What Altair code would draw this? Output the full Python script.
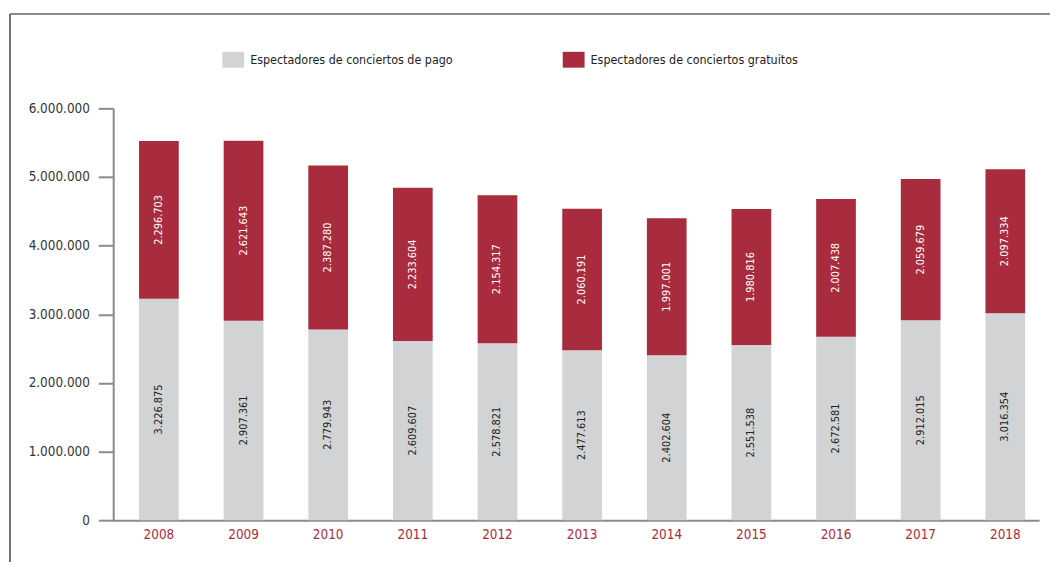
import altair as alt
import pandas as pd

years = ["2008", "2009", "2010", "2011", "2012", "2013", "2014", "2015", "2016", "2017", "2018"]
pago = [3226875, 2907361, 2779943, 2609607, 2578821, 2477613, 2402604, 2551538, 2672581, 2912015, 3016354]
gratuitos = [2296703, 2621643, 2387280, 2233604, 2154317, 2060191, 1997001, 1980816, 2007438, 2059679, 2097334]
series = ["Espectadores de conciertos de pago", "Espectadores de conciertos gratuitos"]
colors = ["#d1d3d4", "#a82c3d"]
y_ticks = [0, 1000000, 2000000, 3000000, 4000000, 5000000, 6000000]


def fmt(v):
    return f"{v:,}".replace(",", ".")


rows = []
for yr, p, g in zip(years, pago, gratuitos):
    rows.append(dict(year=yr, serie=series[0], value=p, y0=0, y1=p, mid=p / 2, label=fmt(p), dark=True))
    rows.append(dict(year=yr, serie=series[1], value=g, y0=p, y1=p + g, mid=p + g / 2, label=fmt(g), dark=False))
df = pd.DataFrame(rows)

FONT = "Liberation Sans Narrow, Arial Narrow, DejaVu Sans Condensed, sans-serif"

x_enc = alt.X(
    "year:N",
    sort=years,
    scale=alt.Scale(paddingInner=0.531, paddingOuter=0.235, align=0.65),
    axis=alt.Axis(
        title=None, labelAngle=0, ticks=False, labelColor="#a82c3d", labelFontSize=13.5,
        labelPadding=7, domainColor="#8a8a8a", domainWidth=2, labelFont=FONT,
    ),
)
y_scale = alt.Scale(domain=[0, 6000000], nice=False)
y_axis = alt.Axis(
    title=None, values=y_ticks, grid=False, tickSize=15, tickColor="#8a8a8a", tickWidth=2,
    domainColor="#8a8a8a", domainWidth=2, labelFontSize=13.5, labelColor="#333333",
    labelPadding=9, labelFont=FONT,
    labelExpr="datum.value == 0 ? '0' : format(datum.value / 1000000, 'd') + '.000.000'",
)

base = alt.Chart(df)

bars = base.mark_bar().encode(
    x=x_enc,
    y=alt.Y("y0:Q", scale=y_scale, axis=y_axis),
    y2="y1:Q",
    color=alt.Color(
        "serie:N",
        scale=alt.Scale(domain=series, range=colors),
        legend=alt.Legend(
            orient="none", legendX=110, legendY=-60, direction="horizontal", title=None,
            symbolType="M-1,-0.727H1V0.727H-1Z", symbolSize=484, symbolStrokeWidth=0,
            symbolOpacity=1, labelFontSize=12.5, labelFont=FONT, labelColor="#222222",
            labelLimit=600, columnPadding=110, padding=0, labelOffset=6,
        ),
    ),
)

texts = base.mark_text(angle=270, fontSize=11, font=FONT).encode(
    x=alt.X("year:N", sort=years),
    y=alt.Y("mid:Q", scale=y_scale),
    text="label:N",
    color=alt.condition("datum.dark", alt.value("#222222"), alt.value("#ffffff")),
)

frame_data = alt.Data(values=[{"k": 1}])
frame_v = alt.Chart(frame_data).mark_rule(color="#444444", strokeWidth=1.5).encode(
    x=alt.value(-104), y=alt.value(-95), y2=alt.value(460)
)
frame_h = alt.Chart(frame_data).mark_rule(color="#666666", strokeWidth=1.5).encode(
    x=alt.value(-104), x2=alt.value(950), y=alt.value(-95)
)

chart = alt.layer(frame_v, frame_h, bars, texts).properties(
    width=933,
    height=415,
    autosize=alt.AutoSizeParams(type="none"),
    padding={"left": 106, "top": 99, "right": 11, "bottom": 40},
).configure_view(stroke=None)

chart.save("out.html", embed_options={"renderer": "svg", "actions": False})
